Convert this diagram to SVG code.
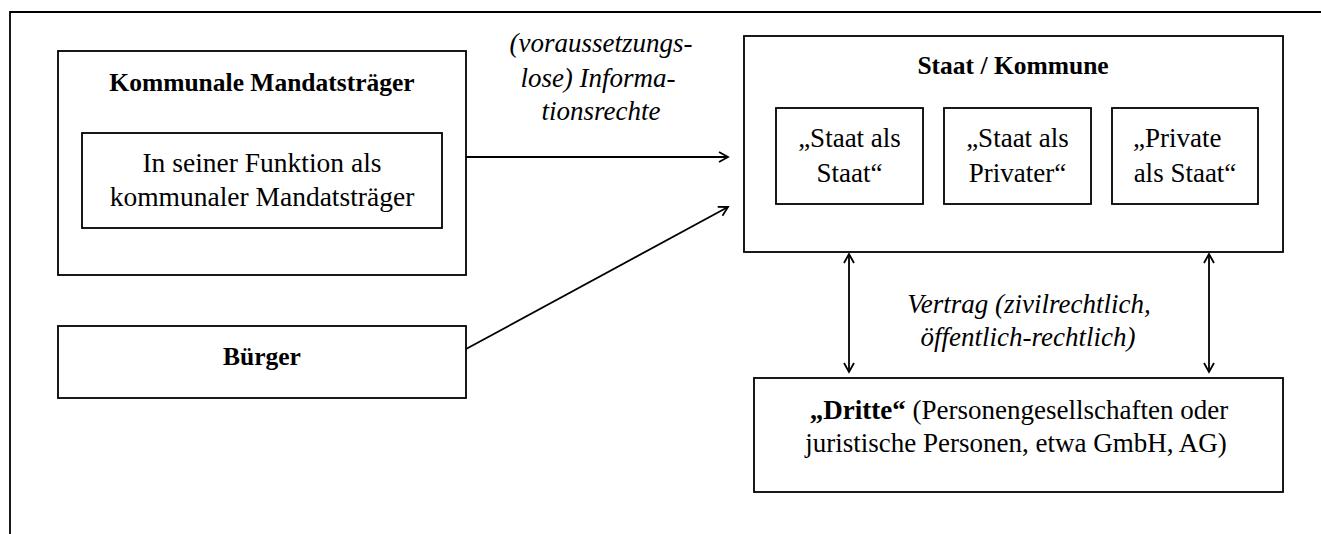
<svg xmlns="http://www.w3.org/2000/svg" width="1321" height="534" viewBox="0 0 1321 534">
<style>
.box{fill:#fff;stroke:#000;stroke-width:1.8}
.t{font-family:"Liberation Serif","Times New Roman",serif;font-size:27px;fill:#000;text-anchor:middle}
.b{font-weight:bold;font-size:25.5px}
.i{font-style:italic}
.c{fill:none;stroke:#000;stroke-width:1.8}
</style>
<defs>
<marker id="ah" markerUnits="userSpaceOnUse" markerWidth="14" markerHeight="14" refX="10" refY="6" orient="auto-start-reverse">
<path d="M1,1 L10,6 L1,11" fill="none" stroke="#000" stroke-width="1.8"/>
</marker>
</defs>
<rect width="1321" height="534" fill="#fff"/>
<path d="M10,534 V12 H1321" fill="none" stroke="#000" stroke-width="1.8"/>
<g id="kommunale">
<rect class="box" x="58" y="51" width="408" height="224"/>
<text class="t b" x="262" y="91">Kommunale Mandatsträger</text>
</g>
<g id="funktion">
<rect class="box" x="82" y="133" width="360" height="95"/>
<text class="t" x="262" y="172" style="font-size:27.5px">In seiner Funktion als</text>
<text class="t" x="262" y="206" style="font-size:27.5px">kommunaler Mandatsträger</text>
</g>
<g id="buerger">
<rect class="box" x="58" y="326" width="408" height="72"/>
<text class="t b" x="262" y="365">Bürger</text>
</g>
<g id="staat">
<rect class="box" x="744" y="36" width="539" height="216"/>
<text class="t b" x="1013" y="74">Staat / Kommune</text>
</g>
<g id="staat-als-staat">
<rect class="box" x="776" y="108" width="147" height="96"/>
<text class="t" x="849.5" y="147">„Staat als</text>
<text class="t" x="849.5" y="182">Staat“</text>
</g>
<g id="staat-als-privater">
<rect class="box" x="944" y="108" width="147" height="96"/>
<text class="t" x="1017.5" y="147">„Staat als</text>
<text class="t" x="1017.5" y="182">Privater“</text>
</g>
<g id="private-als-staat">
<rect class="box" x="1112" y="108" width="146" height="96"/>
<text class="t" x="1133" y="147" style="text-anchor:start">„Private</text>
<text class="t" x="1185" y="182">als Staat“</text>
</g>
<g id="dritte">
<rect class="box" x="754" y="378" width="529" height="114"/>
<text class="t" x="1019" y="419"><tspan font-weight="bold">„Dritte“</tspan> (Personengesellschaften oder</text>
<text class="t" x="1016" y="452">juristische Personen, etwa GmbH, AG)</text>
</g>
<g id="connectors">
<line class="c" x1="466" y1="157" x2="728" y2="157" marker-end="url(#ah)"/>
<line class="c" x1="466" y1="349" x2="728" y2="207" marker-end="url(#ah)"/>
<line class="c" x1="849" y1="254" x2="849" y2="372" marker-start="url(#ah)" marker-end="url(#ah)"/>
<line class="c" x1="1209" y1="254" x2="1209" y2="372" marker-start="url(#ah)" marker-end="url(#ah)"/>
<text class="t i" x="601" y="52">(voraussetzungs-</text>
<text class="t i" x="598" y="87">lose) Informa-</text>
<text class="t i" x="601" y="120">tionsrechte</text>
<text class="t i" x="1029" y="313">Vertrag (zivilrechtlich,</text>
<text class="t i" x="1028" y="346">öffentlich-rechtlich)</text>
</g>
</svg>
